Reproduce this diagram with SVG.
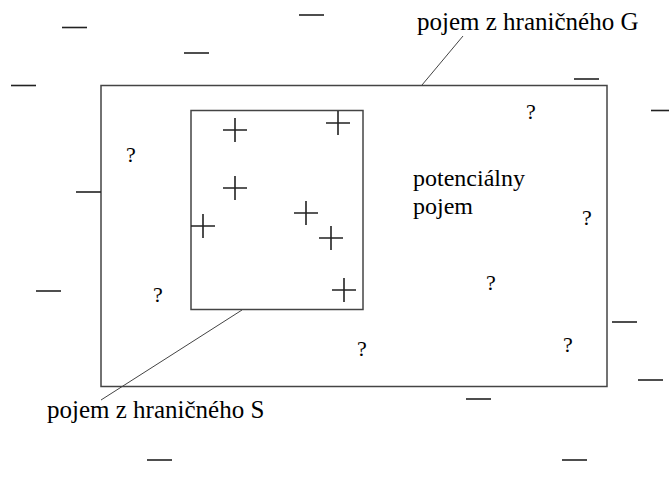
<svg xmlns="http://www.w3.org/2000/svg" xmlns:xlink="http://www.w3.org/1999/xlink" width="669" height="477" viewBox="0 0 669 477">
<style>
.box{fill:none;stroke:#444;stroke-width:1.5}
.lead{fill:none;stroke:#444;stroke-width:1}
.lbl{font-family:"Liberation Serif","Times New Roman",serif;font-size:25px;fill:#000}
.lbl2{font-family:"Liberation Serif","Times New Roman",serif;font-size:24px;fill:#000}
.q{font-family:"Liberation Serif","Times New Roman",serif;font-size:22px;fill:#000;text-anchor:middle}
.mk{stroke:#222;stroke-width:1.6;fill:none}
</style>
<defs>
<path id="plus" class="mk" d="M-12,0H12M0,-12V12"/>
<path id="minus" class="mk" d="M0,0H25"/>
</defs>
<rect width="669" height="477" fill="#fff"/>
<g id="concept-G">
<rect class="box" x="101" y="85.5" width="506" height="301"/>
</g>
<g id="concept-S">
<rect class="box" x="191" y="110.5" width="172" height="199"/>
</g>
<g id="connectors">
<line class="lead" x1="422" y1="85" x2="463" y2="36"/>
<line class="lead" x1="242" y1="310" x2="101" y2="400"/>
</g>
<g id="label-G"><text class="lbl" x="417" y="30">pojem z hraničného G</text></g>
<g id="label-S"><text class="lbl" x="47" y="418">pojem z hraničného S</text></g>
<g id="label-potential"><text class="lbl2" x="413" y="186">potenciálny</text><text class="lbl2" x="413" y="214">pojem</text></g>
<g id="positives">
<use xlink:href="#plus" x="235" y="130"/>
<use xlink:href="#plus" x="338" y="123"/>
<use xlink:href="#plus" x="235" y="188"/>
<use xlink:href="#plus" x="203" y="226"/>
<use xlink:href="#plus" x="306" y="213"/>
<use xlink:href="#plus" x="331" y="238"/>
<use xlink:href="#plus" x="344" y="290"/>
</g>
<g id="negatives">
<use xlink:href="#minus" x="62" y="27.5"/>
<use xlink:href="#minus" x="299" y="15"/>
<use xlink:href="#minus" x="184" y="53"/>
<use xlink:href="#minus" x="11" y="85.5"/>
<use xlink:href="#minus" x="574" y="79"/>
<use xlink:href="#minus" x="651" y="110.5"/>
<use xlink:href="#minus" x="76" y="192"/>
<use xlink:href="#minus" x="36" y="291"/>
<use xlink:href="#minus" x="612" y="322"/>
<use xlink:href="#minus" x="638" y="380"/>
<use xlink:href="#minus" x="466" y="399"/>
<use xlink:href="#minus" x="147" y="460"/>
<use xlink:href="#minus" x="562" y="460"/>
</g>
<g id="unknowns">
<text class="q" x="131" y="162">?</text>
<text class="q" x="531" y="119">?</text>
<text class="q" x="587" y="225">?</text>
<text class="q" x="158" y="302">?</text>
<text class="q" x="491" y="290">?</text>
<text class="q" x="362" y="356">?</text>
<text class="q" x="568" y="352">?</text>
</g>
</svg>
